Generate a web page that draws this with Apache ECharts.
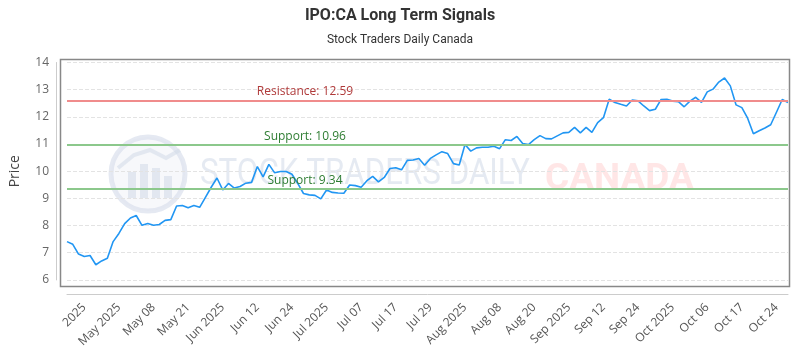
<!DOCTYPE html>
<html>
<head>
<meta charset="utf-8">
<script src="https://cdn.jsdelivr.net/npm/echarts@6/dist/echarts.min.js"></script>
<style>
  html, body { margin: 0; padding: 0; background: #fff; }
  #main { width: 800px; height: 350px; }
</style>
</head>
<body>
<div id="main"></div>
<script>
// closing prices, one per trading day
var prices = [
    7.41, 7.31, 6.95, 6.86, 6.90, 6.56, 6.70, 6.80, 7.41, 7.71,
    8.07, 8.28, 8.37, 8.01, 8.08, 8.01, 8.04, 8.19, 8.22, 8.72,
    8.74, 8.66, 8.74, 8.67, 9.04, 9.41, 9.75, 9.31, 9.55, 9.38,
    9.44, 9.56, 9.59, 10.17, 9.79, 10.25, 9.94, 9.99, 9.99, 9.89,
    9.55, 9.18, 9.13, 9.11, 8.98, 9.31, 9.22, 9.20, 9.19, 9.49,
    9.47, 9.41, 9.65, 9.81, 9.61, 9.77, 10.10, 10.13, 10.05, 10.40,
    10.41, 10.47, 10.22, 10.47, 10.60, 10.72, 10.65, 10.28, 10.23, 10.98,
    10.74, 10.86, 10.88, 10.88, 10.92, 10.83, 11.16, 11.13, 11.28, 11.02,
    10.98, 11.16, 11.31, 11.20, 11.19, 11.30, 11.41, 11.43, 11.61, 11.41,
    11.61, 11.43, 11.79, 11.97, 12.65, 12.53, 12.46, 12.40, 12.62, 12.59,
    12.40, 12.23, 12.28, 12.64, 12.65, 12.58, 12.56, 12.37, 12.58, 12.72,
    12.53, 12.92, 13.02, 13.28, 13.43, 13.14, 12.44, 12.34, 11.95, 11.38,
    11.49, 11.59, 11.71, 12.17, 12.64, 12.53
];

// x axis labels, one every 6 trading days
var tickLabels = ['2025', 'May 2025', 'May 08', 'May 21', 'Jun 2025', 'Jun 12', 'Jun 24',
    'Jul 2025', 'Jul 07', 'Jul 17', 'Jul 29', 'Aug 2025', 'Aug 08', 'Aug 20',
    'Sep 2025', 'Sep 12', 'Sep 24', 'Oct 2025', 'Oct 06', 'Oct 17', 'Oct 24'];
var tickStart = 3;
var tickStep = 6;

var resistance = 12.59;
var supports = [10.96, 9.34];

var days = prices.map(function (p, i) { return i; });

var wmBlue = 'rgba(210,218,232,0.55)';

var myChart = echarts.init(document.getElementById('main'));
myChart.setOption({
    animation: false,
    title: {
        text: 'IPO:CA Long Term Signals',
        subtext: 'Stock Traders Daily Canada',
        left: 'center',
        top: 3,
        itemGap: 10,
        textStyle: { fontFamily: 'Roboto', fontSize: 16, fontWeight: 'bold', color: '#333' },
        subtextStyle: { fontFamily: 'Roboto', fontSize: 12, color: '#333' }
    },
    grid: { left: 61, right: 12, top: 62.5, bottom: 67 },
    graphic: [
        // watermark logo
        { type: 'circle', shape: { cx: 148, cy: 174, r: 37 },
          style: { fill: 'rgba(240,242,248,0.5)', stroke: 'rgba(218,224,236,0.7)', lineWidth: 5 } },
        { type: 'rect', shape: { x: 128, y: 172, width: 8, height: 26 }, style: { fill: wmBlue } },
        { type: 'rect', shape: { x: 140, y: 164, width: 8, height: 34 }, style: { fill: wmBlue } },
        { type: 'rect', shape: { x: 152, y: 168, width: 8, height: 30 }, style: { fill: wmBlue } },
        { type: 'rect', shape: { x: 164, y: 176, width: 8, height: 22 }, style: { fill: wmBlue } },
        { type: 'polyline', shape: { points: [[118, 168], [134, 155], [150, 150], [166, 158], [180, 150]] },
          style: { fill: null, stroke: wmBlue, lineWidth: 4 } },
        { type: 'text', x: 200, y: 175, scaleX: 0.87,
          style: { text: 'STOCK TRADERS DAILY', fontFamily: 'Roboto', fontSize: 36,
                   fill: 'rgba(212,220,233,0.6)', verticalAlign: 'middle' } },
        { type: 'text', x: 545, y: 180,
          style: { text: 'CANADA', fontFamily: 'Roboto', fontSize: 37, fontWeight: 'bold',
                   fill: 'rgba(255,200,200,0.45)', verticalAlign: 'middle' } },
        // plot frame
        { type: 'rect', shape: { x: 60.5, y: 59.5, width: 729, height: 227 },
          style: { fill: null, stroke: '#888', lineWidth: 1.5 } }
    ],
    xAxis: {
        type: 'category',
        data: days,
        boundaryGap: false,
        offset: 14.5,
        axisLine: { lineStyle: { color: '#ccc' } },
        axisTick: { show: false },
        axisLabel: {
            rotate: 45,
            margin: 11,
            color: '#555',
            fontFamily: 'Open Sans',
            fontSize: 12,
            interval: function (idx) {
                return idx >= tickStart && (idx - tickStart) % tickStep === 0;
            },
            formatter: function (v, idx) {
                return tickLabels[(idx - tickStart) / tickStep] || '';
            }
        },
        splitLine: { show: false }
    },
    yAxis: {
        type: 'value',
        min: 6,
        max: 14,
        interval: 1,
        offset: 11,
        name: 'Price',
        nameLocation: 'middle',
        nameGap: 34,
        nameTextStyle: { fontFamily: 'Open Sans', fontSize: 14, color: '#444' },
        axisLine: { show: true, lineStyle: { color: '#ccc' } },
        axisTick: { show: false },
        axisLabel: { color: '#666', fontFamily: 'Open Sans', fontSize: 12, margin: 7 },
        splitLine: { lineStyle: { color: '#e3e3e3', type: 'dashed' } }
    },
    series: [{
        type: 'line',
        data: prices,
        showSymbol: false,
        lineStyle: { color: '#2196f3', width: 1.6 },
        itemStyle: { color: '#2196f3' },
        markLine: {
            silent: true,
            symbol: 'none',
            label: {
                position: 'insideStartTop',
                align: 'center',
                distance: [238, 3],
                fontFamily: 'Open Sans',
                fontSize: 12
            },
            data: [{
                yAxis: resistance,
                lineStyle: { color: '#f08c8c', width: 2, type: 'solid' },
                label: { formatter: 'Resistance: ' + resistance, color: '#b03a3a' }
            }].concat(supports.map(function (s) {
                return {
                    yAxis: s,
                    lineStyle: { color: '#8cc88c', width: 2, type: 'solid' },
                    label: { formatter: 'Support: ' + s, color: '#2e7d32' }
                };
            }))
        }
    }]
});
</script>
</body>
</html>
